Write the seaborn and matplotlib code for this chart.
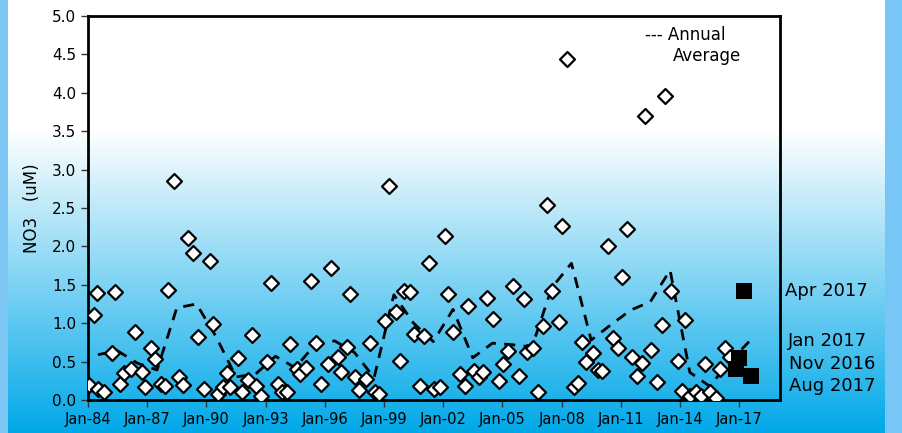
import numpy as np
import pandas as pd
import matplotlib
matplotlib.use("Agg")
import matplotlib.pyplot as plt
import seaborn as sns

# monthly NO3 samples (decimal year, uM)
sample_year = [1984.05, 1984.30, 1984.46, 1984.51, 1984.81, 1985.22, 1985.37, 1985.62, 1985.82, 1986.18,
               1986.38, 1986.74, 1986.89, 1987.19, 1987.40, 1987.70, 1987.90, 1988.05, 1988.36, 1988.61,
               1988.82, 1989.07, 1989.32, 1989.58, 1989.88, 1990.18, 1990.34, 1990.59, 1990.84, 1991.05,
               1991.20, 1991.60, 1991.81, 1992.11, 1992.31, 1992.51, 1992.77, 1993.07, 1993.28, 1993.63,
               1993.83, 1994.09, 1994.24, 1994.59, 1994.75, 1995.05, 1995.30, 1995.56, 1995.81, 1996.16,
               1996.32, 1996.67, 1996.82, 1997.13, 1997.28, 1997.53, 1997.74, 1998.09, 1998.29, 1998.55,
               1998.75, 1999.05, 1999.26, 1999.61, 1999.81, 2000.02, 2000.32, 2000.52, 2000.83, 2001.03,
               2001.28, 2001.54, 2001.84, 2002.09, 2002.25, 2002.50, 2002.85, 2003.11, 2003.26, 2003.56,
               2003.82, 2004.02, 2004.22, 2004.53, 2004.83, 2005.03, 2005.29, 2005.54, 2005.84, 2006.10,
               2006.25, 2006.55, 2006.81, 2007.06, 2007.26, 2007.52, 2007.87, 2008.02, 2008.28, 2008.63,
               2008.84, 2009.04, 2009.24, 2009.60, 2009.85, 2010.05, 2010.36, 2010.61, 2010.86, 2011.07,
               2011.32, 2011.57, 2011.83, 2012.08, 2012.23, 2012.54, 2012.84, 2013.09, 2013.25, 2013.55,
               2013.90, 2014.11, 2014.26, 2014.51, 2014.82, 2015.07, 2015.27, 2015.53, 2015.83, 2016.03,
               2016.29, 2016.54]
sample_no3 = [0.20, 1.11, 1.39, 0.14, 0.10, 0.61, 1.41, 0.21, 0.35, 0.40,
              0.89, 0.36, 0.17, 0.68, 0.53, 0.21, 0.18, 1.43, 2.85, 0.30,
              0.20, 2.11, 1.91, 0.82, 0.14, 1.81, 0.99, 0.08, 0.17, 0.35,
              0.17, 0.55, 0.10, 0.26, 0.85, 0.18, 0.05, 0.49, 1.52, 0.21,
              0.10, 0.10, 0.73, 0.40, 0.34, 0.42, 1.55, 0.74, 0.21, 0.47,
              1.72, 0.56, 0.36, 0.69, 1.38, 0.30, 0.13, 0.27, 0.74, 0.10,
              0.08, 1.03, 2.79, 1.15, 0.51, 1.42, 1.41, 0.86, 0.18, 0.83,
              1.78, 0.14, 0.17, 2.14, 1.38, 0.89, 0.34, 0.18, 1.22, 0.38,
              0.30, 0.36, 1.33, 1.05, 0.25, 0.47, 0.64, 1.48, 0.31, 1.32,
              0.63, 0.68, 0.10, 0.96, 2.54, 1.42, 1.02, 2.27, 4.44, 0.17,
              0.22, 0.76, 0.49, 0.61, 0.39, 0.38, 2.01, 0.81, 0.68, 1.60,
              2.23, 0.56, 0.31, 0.48, 3.70, 0.65, 0.23, 0.98, 3.96, 1.42,
              0.51, 0.12, 1.04, 0.05, 0.10, 0.05, 0.47, 0.10, 0.03, 0.40,
              0.68, 0.56]

# annual average, plotted mid-year
avg_year = [1984.5 + i for i in range(34)]
avg_no3 = [0.59, 0.64, 0.48, 0.39, 1.20, 1.25, 0.82, 0.30, 0.34, 0.57,
           0.42, 0.72, 0.77, 0.62, 0.29, 1.37, 1.00, 0.76, 1.18, 0.55,
           0.74, 0.72, 0.69, 1.46, 1.78, 0.78, 0.98, 1.17, 1.28, 1.69,
           0.36, 0.18, 0.49, 0.76]

# recent samples highlighted
recent_label = ["Nov 2016", "Jan 2017", "Apr 2017", "Aug 2017"]
recent_year = [2016.83, 2017.0, 2017.25, 2017.58]
recent_no3 = [0.40, 0.55, 1.42, 0.31]

tick_years = [1984, 1987, 1990, 1993, 1996, 1999, 2002, 2005, 2008, 2011, 2014, 2017]
tick_labels = ["Jan-84", "Jan-87", "Jan-90", "Jan-93", "Jan-96", "Jan-99", "Jan-02",
               "Jan-05", "Jan-08", "Jan-11", "Jan-14", "Jan-17"]

samples = pd.DataFrame({"year": sample_year, "no3": sample_no3})
annual = pd.DataFrame({"year": avg_year, "no3": avg_no3})
recent = pd.DataFrame({"year": recent_year, "no3": recent_no3, "label": recent_label})

sns.set_style("ticks")
plt.rcParams["font.family"] = ["DejaVu Sans"]
plt.rcParams["text.color"] = "black"

W, H = 903, 433
fig = plt.figure(figsize=(W / 100, H / 100), dpi=100)

# slide background: white fading to blue
bg = fig.add_axes([0, 0, 1, 1], zorder=-10)
rows = np.arange(H)
t = np.clip((rows - 130) / (H - 130), 0, 1)
top = np.array([1.0, 1.0, 1.0])
bottom = np.array([0 / 255, 168 / 255, 232 / 255])
col = top[None, :] * (1 - t[:, None]) + bottom[None, :] * t[:, None]
img = np.repeat(col[:, None, :], W, axis=1)
img[:, :8, :] = np.array([125, 200, 245]) / 255
img[:, 885:, :] = np.array([120, 198, 245]) / 255
bg.imshow(img, aspect="auto", extent=[0, W, H, 0])
bg.set_axis_off()

ax = fig.add_axes([88 / W, 33 / H, 692 / W, 384 / H])
ax.set_facecolor("none")

sns.lineplot(data=annual, x="year", y="no3", ax=ax, color="black",
             linestyle=(0, (4, 3)), linewidth=2.0, zorder=2)
sns.scatterplot(data=samples, x="year", y="no3", ax=ax, marker="D", s=58,
                color="white", edgecolor="black", linewidth=1.6, zorder=3)
sns.scatterplot(data=recent, x="year", y="no3", ax=ax, marker="s", s=125,
                color="black", edgecolor="black", linewidth=0, zorder=4)

ax.set_xlim(1984, 2019.07)
ax.set_ylim(0, 5)
ax.set_xticks(tick_years)
ax.set_xticklabels(tick_labels, fontsize=10.5)
ax.set_yticks(np.arange(0, 5.01, 0.5))
ax.set_yticklabels([f"{v:.1f}" for v in np.arange(0, 5.01, 0.5)], fontsize=11)
ax.set_xlabel("")
ax.set_ylabel("NO3   (uM)", fontsize=12, labelpad=8, color="black")
ax.tick_params(axis="both", length=5, width=1, color="#333333", labelcolor="black")
for s in ax.spines.values():
    s.set_visible(True)
    s.set_linewidth(2)
    s.set_color("black")

# legend text
fig.text(645 / W, 1 - 35 / H, "--- Annual", fontsize=12, va="center", ha="left")
fig.text(673 / W, 1 - 56 / H, "Average", fontsize=12, va="center", ha="left")

# labels for the recent samples
label_pos = {"Apr 2017": (785, 291), "Jan 2017": (788, 341),
             "Nov 2016": (789, 364), "Aug 2017": (789, 386)}
for lab in recent_label:
    px, py = label_pos[lab]
    fig.text(px / W, 1 - py / H, lab, fontsize=13, va="center", ha="left")

fig.savefig("out.png", dpi=100)
